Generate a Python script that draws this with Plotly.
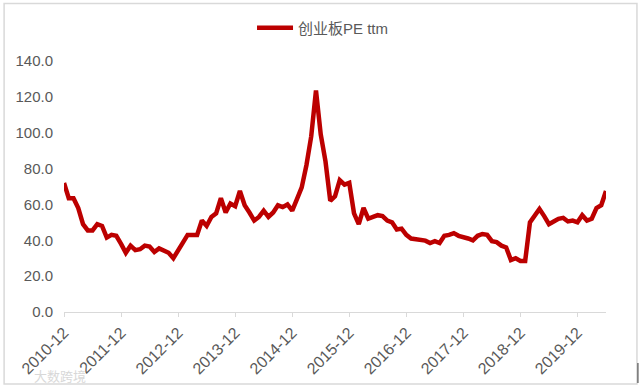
import plotly.graph_objects as go

series_name = "创业板PE ttm"
months = [f"{2010 + (11 + k) // 12}-{(11 + k) % 12 + 1:02d}" for k in range(115)]
pe_ttm = [
    72, 63.5, 63.5, 58, 49, 45.5, 45.5, 49, 48, 41.5, 43, 42.5,
    38, 33, 37, 34.5, 35, 37, 36.5, 33.5, 35.5, 34.5, 33, 30,
    34, 38, 43, 43, 43, 51, 48, 53, 55, 63.5, 55.5, 60.5,
    59, 67.5, 59.5, 55.5, 51, 53, 56.5, 53, 55.5, 59.5, 58.5, 60,
    56.5, 63, 69.5, 82, 98, 123.5, 99, 84, 62, 64.5, 73.5, 71,
    72, 55, 49, 58, 52, 53, 54, 53.5, 51, 50, 46, 46.5,
    43, 41, 40.5, 40, 39.8, 38.5, 39.5, 38.5, 42.5, 43, 44, 42.5,
    42, 41, 40, 42.5, 43.5, 43, 39.5, 39, 37, 36, 29, 30,
    28.5, 28.5, 50, 54, 57.5, 53.5, 49, 50.5, 52, 52.5, 50.5, 51,
    50, 54, 51, 52, 58, 59.5, 67.5,
]
year_ticks = [m for m in months if m.endswith("-12")]
y_ticks = [0, 20, 40, 60, 80, 100, 120, 140]

W, H = 643, 389
L, R, T, B = 63.5, 606.5, 61, 312
GREY = "#595959"

fig = go.Figure(go.Scatter(
    x=months, y=pe_ttm, mode="lines", name=series_name,
    line=dict(color="#BC0000", width=4.5), showlegend=True,
))
fig.update_layout(
    width=W, height=H, autosize=False,
    margin=dict(l=L, r=W - R, t=T, b=H - B, autoexpand=False),
    paper_bgcolor="white", plot_bgcolor="white",
    font=dict(family="Liberation Sans, Noto Sans CJK SC", color=GREY, size=14),
    legend=dict(orientation="h", x=(323 - L) / (R - L), xanchor="center", y=(B - 28) / (B - T), yanchor="middle",
                itemwidth=36, font=dict(size=15, color=GREY), bgcolor="rgba(0,0,0,0)"),
    xaxis=dict(type="category", range=[0, 114], tickmode="array", tickvals=year_ticks,
               ticktext=year_ticks, tickangle=-45, ticks="outside", ticklen=4,
               tickcolor="#D9D9D9", showline=True, linecolor="#D9D9D9", linewidth=1,
               showgrid=False, zeroline=False, tickfont=dict(size=16, color=GREY)),
    yaxis=dict(range=[0, 140], tickmode="array", tickvals=y_ticks, tickformat=".1f",
               showgrid=False, zeroline=False, showline=False, ticks="", ticklabelstandoff=10,
               tickfont=dict(size=15, color=GREY)),
    shapes=[
        dict(type="rect", xref="paper", yref="paper",
             x0=(3.5 - L) / (R - L), x1=(637.5 - L) / (R - L),
             y0=(B - 384) / (B - T), y1=(B - 3.5) / (B - T),
             line=dict(color="#D9D9D9", width=1.5), layer="below"),
        dict(type="line", xref="paper", yref="paper",
             x0=(638.5 - L) / (R - L), x1=(638.5 - L) / (R - L),
             y0=(B - 383) / (B - T), y1=(B - 363) / (B - T),
             line=dict(color="#333333", width=1)),
    ],
    annotations=[dict(text="大数跨境", xref="paper", yref="paper",
                      x=(31 - L) / (R - L), xanchor="left",
                      y=(B - 376) / (B - T), yanchor="middle", showarrow=False,
                      font=dict(size=13, color="#D8D8D8"))],
)
fig.write_html("out.html", post_script="document.body.style.margin='0';",
               config={"displayModeBar": False})
